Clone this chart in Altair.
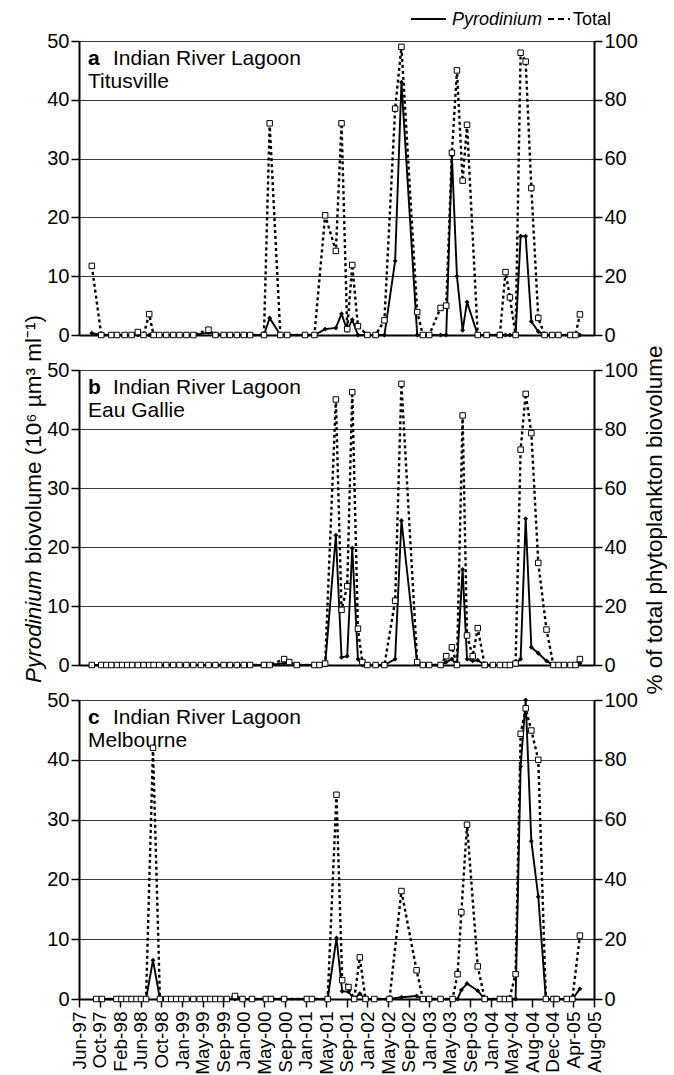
import altair as alt
import pandas as pd

# ---------------- data (sampling time in decimal years) ----------------
tick_labels = ["Jun-97", "Oct-97", "Feb-98", "Jun-98", "Oct-98", "Jan-99", "May-99",
               "Sep-99", "Jan-00", "May-00", "Sep-00", "Jan-01", "May-01", "Sep-01",
               "Jan-02", "May-02", "Sep-02", "Jan-03", "May-03", "Sep-03", "Jan-04",
               "May-04", "Aug-04", "Dec-04", "Apr-05", "Aug-05"]
T0 = 1997.4167
STEP = 0.32667

# Panel a: Titusville
a_time = [1997.62, 1997.77, 1997.93, 1998.02, 1998.14, 1998.25, 1998.35, 1998.44, 1998.53,
          1998.60, 1998.69, 1998.80, 1998.91, 1999.01, 1999.12, 1999.23, 1999.47, 1999.58,
          1999.71, 1999.81, 1999.92, 2000.03, 2000.13, 2000.35, 2000.44, 2000.61, 2000.72,
          2001.00, 2001.15, 2001.32, 2001.49, 2001.58, 2001.67, 2001.75, 2001.84, 2001.99,
          2002.12, 2002.26, 2002.43, 2002.53, 2002.78, 2002.87, 2002.97, 2003.15, 2003.24,
          2003.33, 2003.41, 2003.50, 2003.57, 2003.74, 2003.88, 2004.09, 2004.18, 2004.25,
          2004.34, 2004.42, 2004.50, 2004.59, 2004.70, 2004.80, 2004.92, 2005.02, 2005.21,
          2005.29, 2005.36]
a_pyro = [0.3, 0, 0, 0, 0, 0, 0, 0, 0,
          0, 0, 0, 0, 0, 0, 0, 0.4, 0.2,
          0, 0, 0, 0, 0, 0, 2.9, 0, 0,
          0, 0, 1.0, 1.2, 3.6, 0.8, 2.6, 0, 0,
          0, 0, 12.6, 43.0, 0, 0, 0, 0, 0,
          30.5, 10.0, 0.8, 5.6, 0, 0, 0, 0, 0,
          0, 16.8, 16.8, 2.3, 0.6, 0, 0, 0, 0,
          0, 0]
a_total = [23.5, 0, 0, 0, 0, 0, 1.0, 0, 7.1,
           0, 0, 0, 0, 0, 0, 0, 1.8, 0,
           0, 0, 0, 0, 0, 0, 72.0, 0, 0,
           0, 0, 40.7, 28.6, 72.0, 2.0, 23.8, 3.0, 0,
           0, 5.0, 77.0, 98.0, 7.8, 0, 0, 9.2, 10.0,
           62.0, 90.0, 52.5, 71.5, 0, 0, 0, 21.4, 12.8,
           0, 96.0, 93.0, 50.0, 5.8, 0, 0, 0, 0,
           0, 7.0]

# Panel b: Eau Gallie
b_time = [1997.62, 1997.77, 1997.85, 1997.93, 1998.02, 1998.10, 1998.18, 1998.26, 1998.35,
          1998.44, 1998.53, 1998.60, 1998.69, 1998.80, 1998.91, 1999.01, 1999.12, 1999.23,
          1999.35, 1999.47, 1999.58, 1999.71, 1999.81, 1999.92, 2000.03, 2000.13, 2000.35,
          2000.44, 2000.67, 2000.75, 2000.87, 2001.15, 2001.23, 2001.32, 2001.49, 2001.58,
          2001.67, 2001.75, 2001.84, 2001.91, 2001.99, 2002.12, 2002.26, 2002.43, 2002.53,
          2002.78, 2002.87, 2002.97, 2003.15, 2003.24, 2003.33, 2003.41, 2003.50, 2003.57,
          2003.66, 2003.74, 2003.85, 2003.98, 2004.09, 2004.18, 2004.25, 2004.34, 2004.42,
          2004.50, 2004.59, 2004.70, 2004.83, 2004.94, 2005.02, 2005.11, 2005.21, 2005.29,
          2005.36]
b_pyro = [0, 0, 0, 0, 0, 0, 0, 0, 0,
          0, 0, 0, 0, 0, 0, 0, 0, 0,
          0, 0, 0, 0, 0, 0, 0, 0, 0,
          0, 0.3, 0.5, 0, 0, 0, 0, 22.0, 1.3,
          1.5, 19.8, 1.0, 0, 0, 0, 0, 1.0, 24.5,
          0.3, 0, 0, 0, 0.5, 1.0, 0, 16.2, 1.0,
          0.7, 0.8, 0, 0, 0, 0, 0, 0.3, 1.0,
          24.8, 3.0, 2.0, 0.7, 0, 0, 0, 0, 0,
          0.3]
b_total = [0, 0, 0, 0, 0, 0, 0, 0, 0,
           0, 0, 0, 0, 0, 0, 0, 0, 0,
           0, 0, 0, 0, 0, 0, 0, 0, 0,
           0, 2.0, 1.0, 0, 0, 0, 0.5, 90.0, 18.7,
           26.7, 92.5, 12.3, 1.0, 0, 0, 0, 21.8, 95.3,
           1.0, 0, 0, 0, 3.0, 6.0, 0, 84.6, 10.0,
           3.0, 12.5, 0, 0, 0, 0, 0, 0.5, 73.0,
           91.9, 78.6, 34.6, 12.0, 0, 0, 0, 0, 0,
           2.0]

# Panel c: Melbourne
c_time = [1997.69, 1997.78, 1998.01, 1998.09, 1998.17, 1998.25, 1998.33, 1998.40, 1998.48,
          1998.59, 1998.70, 1998.80, 1998.88, 1998.96, 1999.04, 1999.12, 1999.23, 1999.33,
          1999.42, 1999.50, 1999.58, 1999.66, 1999.76, 1999.89, 2000.01, 2000.16, 2000.38,
          2000.46, 2000.67, 2001.03, 2001.11, 2001.36, 2001.50, 2001.59, 2001.69, 2001.78,
          2001.87, 2001.96, 2002.10, 2002.34, 2002.53, 2002.77, 2002.87, 2002.97, 2003.15,
          2003.34, 2003.42, 2003.48, 2003.57, 2003.74, 2003.85, 2004.09, 2004.17, 2004.24,
          2004.34, 2004.42, 2004.50, 2004.59, 2004.70, 2004.82, 2004.94, 2004.99, 2005.15,
          2005.24, 2005.36]
c_pyro = [0, 0, 0, 0, 0, 0, 0, 0, 0,
          6.5, 0, 0, 0, 0, 0, 0, 0, 0,
          0, 0, 0, 0, 0, 0, 0, 0, 0,
          0, 0, 0, 0, 0, 10.2, 1.3, 1.2, 0,
          0.9, 0, 0, 0, 0.3, 0.5, 0, 0, 0,
          0, 0, 1.5, 2.6, 1.4, 0, 0, 0, 0,
          0, 38.9, 50.0, 26.4, 17.1, 0, 0, 0, 0,
          0, 1.7]
c_total = [0, 0, 0, 0, 0, 0, 0, 0, 0,
           84.0, 0, 0, 0, 0, 0, 0, 0, 0,
           0, 0, 0, 0, 0, 1.0, 0, 0, 0,
           0, 0, 0, 0, 0, 68.3, 6.3, 4.0, 0,
           13.9, 0, 0, 0, 36.1, 9.6, 0, 0, 0,
           0, 8.3, 29.0, 58.3, 10.9, 0, 0, 0, 0,
           8.3, 88.7, 97.2, 89.8, 80.0, 0, 0, 0, 0,
           0, 21.2]

FONT = "Liberation Sans"
W = 515
LABEL_FS = 20
labels_js = "[" + ",".join("'" + s + "'" for s in tick_labels) + "]"
tick_vals = [round(T0 + k * STEP, 5) for k in range(len(tick_labels))]


def text_layer(txt, x, y, size=21, weight="normal", style="normal", angle=0, align="left"):
    return alt.Chart(pd.DataFrame({"k": [0]})).mark_text(
        text=txt, font=FONT, fontSize=size, fontWeight=weight, fontStyle=style,
        angle=angle, align=align, baseline="alphabetic", color="black"
    ).encode(x=alt.value(x), y=alt.value(y))


def panel(times, pyro, total, letter, site, height, bottom, extras):
    df = pd.DataFrame({"t": times, "pyro": pyro, "total": total})
    base = alt.Chart(df)
    if bottom:
        xaxis = alt.Axis(values=tick_vals, labelExpr=labels_js + "[round((datum.value-%s)/%s)]" % (T0, STEP),
                         labelAngle=270, labelFontSize=19, labelOverlap=False, labelPadding=4,
                         tickSize=8, tickWidth=1.5, tickColor="black", domainWidth=2,
                         domainColor="black", grid=False, title=None, labelFont=FONT,
                         labelColor="black")
    else:
        xaxis = alt.Axis(values=tick_vals, labels=False, ticks=False, domainWidth=2,
                         domainColor="black", grid=False, title=None)
    x = alt.X("t:Q", scale=alt.Scale(domain=[T0, T0 + 25 * STEP], nice=False, zero=False), axis=xaxis)
    yl = alt.Y("pyro:Q", scale=alt.Scale(domain=[0, 50], nice=False),
               axis=alt.Axis(values=[0, 10, 20, 30, 40, 50], grid=True, gridColor="#3a3a3a",
                             gridWidth=1, tickSize=8, tickWidth=1.5, tickColor="black",
                             domainWidth=2, domainColor="black", labelFontSize=LABEL_FS,
                             labelPadding=2, title=None, labelFont=FONT, labelColor="black"))
    yr = alt.Y("total:Q", scale=alt.Scale(domain=[0, 100], nice=False),
               axis=alt.Axis(values=[0, 20, 40, 60, 80, 100], orient="right", grid=False,
                             tickSize=8, tickWidth=1.5, tickColor="black", domainWidth=2,
                             domainColor="black", labelFontSize=LABEL_FS, labelPadding=2,
                             title=None, labelFont=FONT, labelColor="black"))
    pyro_line = base.mark_line(color="black", strokeWidth=1.9).encode(x=x, y=yl)
    pyro_pts = base.mark_point(shape="diamond", filled=True, color="black", size=24, opacity=1).encode(x=x, y=yl)
    tot_line = base.mark_line(color="black", strokeWidth=2.4, strokeDash=[3, 3]).encode(x=x, y=yr)
    tot_pts = base.mark_point(shape="square", filled=True, fill="white", stroke="black",
                              strokeWidth=1, size=30, opacity=1).encode(x=x, y=yr)
    labels = [
        text_layer(letter, 9, 24, weight="bold"),
        text_layer("Indian River Lagoon", 34, 24),
        text_layer(site, 9, 47),
    ]
    left = alt.layer(pyro_line, pyro_pts, *labels, *extras)
    right = alt.layer(tot_line, tot_pts)
    return alt.layer(left, right).resolve_scale(y="independent").properties(width=W, height=height)


legend = [
    alt.Chart(pd.DataFrame({"k": [0]})).mark_rule(color="black", strokeWidth=2).encode(
        x=alt.value(332), x2=alt.value(367), y=alt.value(-22)),
    text_layer("Pyrodinium", 373, -16, size=18, style="italic"),
    alt.Chart(pd.DataFrame({"k": [0]})).mark_rule(color="black", strokeWidth=2, strokeDash=[6, 4]).encode(
        x=alt.value(469), x2=alt.value(491), y=alt.value(-22)),
    text_layer("Total", 494, -16, size=18),
]

axis_titles = [
    text_layer("Pyrodinium", -38, 313, size=22.5, style="italic", angle=270),
    text_layer("biovolume (10\u2076 \u00b5m\u00b3 ml\u207b\u00b9)", -38, 194, size=22.5, angle=270),
    text_layer("% of total phytoplankton biovolume", W + 68, 150, size=22.5, angle=270, align="center"),
]

pa = panel(a_time, a_pyro, a_total, "a", "Titusville", 294, False, legend)
pb = panel(b_time, b_pyro, b_total, "b", "Eau Gallie", 295, False, axis_titles)
pc = panel(c_time, c_pyro, c_total, "c", "Melbourne", 299, True, [])

chart = alt.vconcat(pa, pb, pc, spacing=35, bounds="flush").properties(
    padding={"left": 22, "top": 10, "right": 0, "bottom": 0}
).configure_view(stroke="black", strokeWidth=2).configure(font=FONT)

chart.save("out.html", embed_options={"renderer": "svg", "actions": False})
